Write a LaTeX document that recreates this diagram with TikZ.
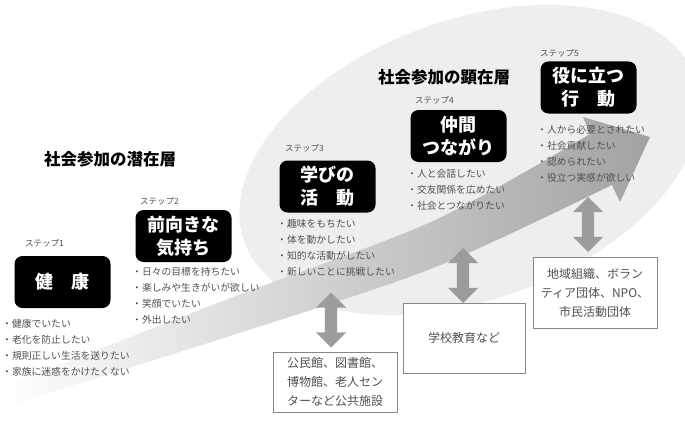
\documentclass[tikz,border=0pt]{standalone}
\usepackage{fontspec}
\newfontfamily\jp{Noto Sans CJK JP}
\usetikzlibrary{shapes.arrows}
\definecolor{elgray}{HTML}{EEEEEE}
\definecolor{txtgray}{HTML}{505050}
\definecolor{boxline}{HTML}{888888}
\definecolor{darr}{HTML}{9C9C9C}
\definecolor{arrend}{HTML}{A2A2A2}
\tikzset{
  stepbox/.style={fill=black, rounded corners=8pt, minimum width=96pt, minimum height=52pt,
    text=white, font=\jp\bfseries\fontsize{18}{23}\selectfont, align=center, inner sep=0pt},
  steplabel/.style={anchor=west, inner sep=0pt, text=txtgray, font=\jp\fontsize{8.5}{10}\selectfont},
  bullets/.style={anchor=north west, inner sep=0pt, text=txtgray, align=left, font=\jp\fontsize{9.8}{16}\selectfont},
  title/.style={inner sep=0pt, text=black, font=\jp\bfseries\fontsize{16.5}{20}\selectfont},
  infobox/.style={draw=boxline, line width=0.9pt, fill=white, align=center, text=txtgray,
    font=\jp\fontsize{12}{19}\selectfont, inner sep=0pt},
  dblarrow/.style={double arrow, shape border rotate=90, fill=darr, draw=none,
    minimum height=55pt, minimum width=30pt, inner sep=6pt, double arrow head extend=9pt,
    double arrow tip angle=90}
}
\begin{document}
\begin{tikzpicture}[x=1pt,y=-1pt]
\useasboundingbox (0,0) rectangle (685,428);
\fill[white] (0,0) rectangle (685,428);
% large ellipse
\fill[elgray, rotate around={20:(470,160)}] (470,160) ellipse [x radius=240, y radius=140];
% big arrow
\shade[left color=white, right color=arrend]
  plot[smooth] coordinates {(0,388) (233,297) (433,221) (590,134)}
  -- (583,117) -- (650,137) -- (620,202) -- (612,185)
  -- plot[smooth] coordinates {(612,185) (433,268) (233,335) (0,408)}
  -- cycle;
% titles
\node[title] (t1) at (110,159) {社会参加の潜在層};
\node[title] (t2) at (444,77) {社会参加の顕在層};
% step boxes
\node[stepbox] (s1) at (62.5,282) {健　康};
\node[stepbox] (s2) at (183.5,236) {前向きな\\気持ち};
\node[stepbox] (s3) at (327.5,186.5) {学びの\\活　動};
\node[stepbox] (s4) at (458.5,136) {仲間\\つながり};
\node[stepbox] (s5) at (588.5,87.5) {役に立つ\\行　動};
% step labels
\node[steplabel] (l1) at (25,243) {ステップ1};
\node[steplabel] (l2) at (140,201) {ステップ2};
\node[steplabel] (l3) at (285,148) {ステップ3};
\node[steplabel] (l4) at (415,100) {ステップ4};
\node[steplabel] (l5) at (540,53) {ステップ5};
% bullets
\node[bullets] (b1) at (2,319.5) {・健康でいたい\\・老化を防止したい\\・規則正しい生活を送りたい\\・家族に迷惑をかけたくない};
\node[bullets] (b2) at (132,267.5) {・日々の目標を持ちたい\\・楽しみや生きがいが欲しい\\・笑顔でいたい\\・外出したい};
\node[bullets] (b3) at (277,219.5) {・趣味をもちたい\\・体を動かしたい\\・知的な活動がしたい\\・新しいことに挑戦したい};
\node[bullets] (b4) at (407,169.5) {・人と会話したい\\・交友関係を広めたい\\・社会とつながりたい};
\node[bullets] (b5) at (537,125.5) {・人から必要とされたい\\・社会貢献したい\\・認められたい\\・役立つ実感が欲しい};
% double arrows
\node[dblarrow] (a1) at (331,320) {};
\node[dblarrow] (a2) at (463,275.5) {};
\node[dblarrow] (a3) at (588,224.5) {};
% info boxes
\node[infobox, minimum width=124pt, minimum height=60pt] (c1) at (335,382) {公民館、図書館、\\博物館、老人セン\\ターなど公共施設};
\node[infobox, minimum width=122pt, minimum height=70pt] (c2) at (464,338) {学校教育など};
\node[infobox, minimum width=124pt, minimum height=71pt] (c3) at (595,292.5) {地域組織、ボラン\\ティア団体、NPO、\\市民活動団体};
\end{tikzpicture}
\end{document}
